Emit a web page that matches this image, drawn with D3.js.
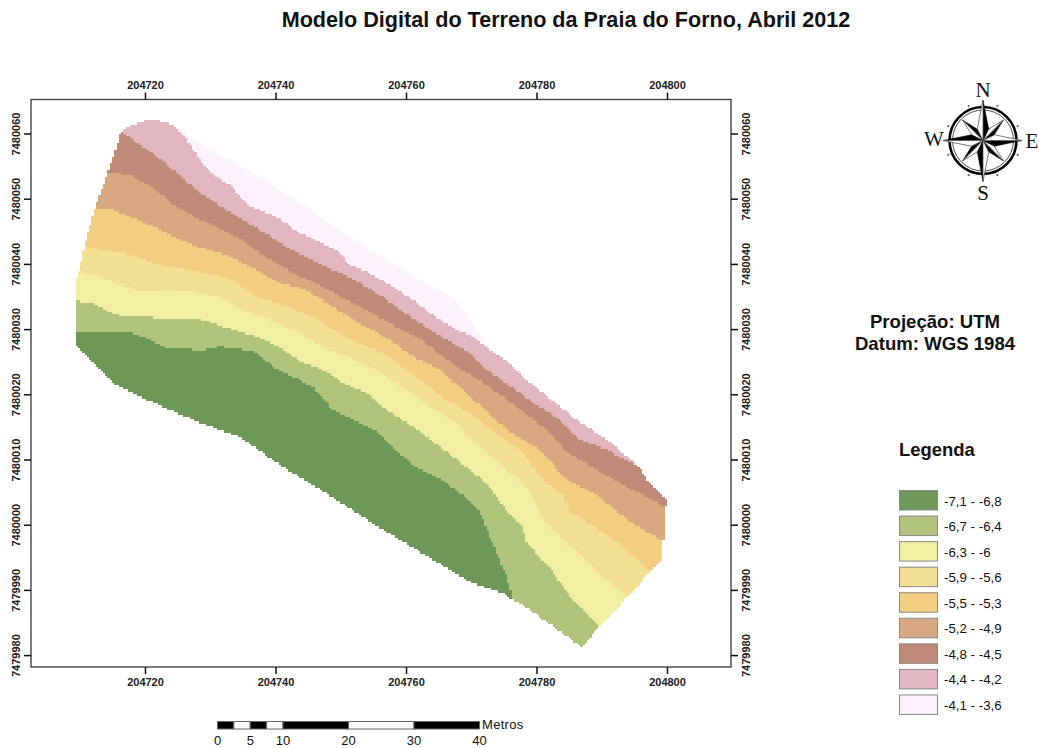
<!DOCTYPE html>
<html>
<head>
<meta charset="utf-8">
<script src="https://cdn.jsdelivr.net/npm/d3@7"></script>
<style>
  html, body { margin: 0; padding: 0; background: #fff; }
  svg { display: block; }
  text { font-family: "Liberation Sans", Arial, sans-serif; fill: #111; }
</style>
</head>
<body>
<svg id="chart" width="1039" height="748"></svg>
<script>
// map positions are metres from this UTM origin
const eastOrigin = 204700;
const northOrigin = 7480000;

const eastTicks = [204720, 204740, 204760, 204780, 204800];
const northTicks = [7479980, 7479990, 7480000, 7480010, 7480020, 7480030, 7480040, 7480050, 7480060];

const classLabels = ["-7,1 - -6,8", "-6,7 - -6,4", "-6,3 - -6", "-5,9 - -5,6", "-5,5 - -5,3", "-5,2 - -4,9", "-4,8 - -4,5", "-4,4 - -4,2", "-4,1 - -3,6"];
const classColors = ["#6e9857", "#b0c47c", "#f2eea2", "#f3e094", "#f3cd80", "#d8a980", "#c08a79", "#e2b6bf", "#fdf1fe"];

const surveyOutline = [[9.27,27.82],[9.27,34.46],[9.53,38.04],[10.04,39.37],[10.8,43.2],[12.49,49.03],[14.64,54.86],[16.32,60.28],[17.39,61.04],[20.77,62.22],[21.79,62.07],[23.83,61.46],[24.86,60.8],[28.43,58.54],[32.52,56.24],[37.62,53.37],[43.75,49.34],[54.48,42.13],[62.61,37.27],[67.77,34.46],[69.81,31.4],[72.87,26.79],[75.94,24.8],[77.47,23.27],[78.5,22.19],[86.16,16.06],[91.26,12.73],[95.56,9],[97.39,6.4],[100.15,3.79],[99.8,2.76],[99.8,-1.27],[99.39,-2.61],[99.39,-5.41],[97.39,-7.21],[96.12,-8.74],[93.82,-11.04],[92.29,-13.08],[89.73,-15.64],[86.93,-18.71],[82.57,-15.64],[77.98,-12.32],[76.4,-11.55],[74.91,-10.48],[69.81,-8.74],[56.48,-0.81],[49.38,3.79],[45.75,6.09],[40.69,9.16],[34.56,13.45],[28.43,15.6],[17.7,20.35],[15.1,21.73],[11.57,25.26]];

// upper limit of each class, west to east (class 0 is the lowest)
const limit0 = [[8,29.6],[13.1,29.4],[17.2,29.6],[19.69,28.83],[23.33,27.1],[28.89,26.79],[31.49,27.3],[36.55,26.69],[39.62,24.23],[43.75,22.19],[45.75,21.17],[48.81,17.59],[55.51,14.26],[58.01,11.76],[61.07,9.16],[66.24,6.4],[69.81,3.64],[71.34,1.79],[75.43,-7.98],[76.4,-11.55],[76.55,-12.01]];
const limit1 = [[8,34.46],[12.03,34],[15.4,32.16],[19.23,31.86],[23.33,31.7],[28.89,31.4],[32.52,30.17],[37.12,28.83],[40.69,27.1],[44.21,24.8],[47.28,23.73],[50.91,21.43],[53.98,20.2],[57.04,17.59],[61.07,15.03],[65.21,11.96],[69.81,8.39],[72.87,5.83],[75.63,1.79],[77.93,-0.31],[78.5,-2.81],[82.07,-6.64],[85.13,-11.04],[89.58,-15.64],[90.34,-16.46]];
const limit2 = [[8,39.37],[12.03,38.3],[15.1,37.27],[19.23,35.74],[23.33,36],[28.43,35.54],[31.49,34.97],[35.02,32.93],[38.65,31.7],[43.75,29.4],[47.28,27.3],[50.91,25.77],[55.51,23.73],[60.11,20.66],[63.68,18.1],[67.77,15.6],[69.81,13.3],[72.87,10.69],[76.4,7.62],[78.5,5.83],[81.3,0.26],[86.16,-4.14],[90.19,-7.98],[93.82,-11.04],[94.63,-11.7]];
const limit3 = [[8,43.2],[13.56,42.13],[16.63,41.67],[21.23,40.14],[24.86,39.37],[29.46,38.6],[33.49,37.53],[37.12,34.97],[40.69,33.85],[45.75,31.9],[50.91,28.63],[57.04,26.03],[61.07,22.96],[66.24,19.13],[69.81,17.13],[73.33,14.26],[77.93,11.2],[80.54,7.36],[84.06,4.56],[85.13,1.99],[91.26,-1.84],[97.39,-7.06],[98.16,-7.71]];
const limit4 = [[8,49.03],[15.1,48.27],[17.7,47.24],[21.23,45.71],[24.86,43.97],[27.92,42.64],[32.52,41.36],[36.09,39.57],[40.69,37.07],[44.78,36],[48.35,33.7],[52.44,31.13],[57.04,28.63],[61.07,25.77],[65.21,23.73],[69.81,19.74],[72.87,16.83],[76.4,13.91],[80.54,11.46],[84.63,6.86],[89.23,4.56],[94.33,0.46],[99.43,-2.61],[100.46,-3.11]];
const limit5 = [[8,55.02],[17.7,53.64],[21.23,51.64],[24.86,48.77],[27.92,47.04],[30.99,45.71],[34.05,44.17],[37.62,41.67],[40.69,39.75],[43.25,38.3],[46.82,36.76],[50.34,34.77],[53.98,32.93],[58.01,30.63],[62.15,28.48],[65.67,25.77],[69.3,23.27],[71.34,22.19],[74.87,19.63],[79,16.56],[82.07,14.06],[84.63,11.2],[89.23,8.39],[93.82,5.83],[99.8,2.71],[100.46,2.41]];
const limit6 = [[8,60.54],[16.02,60.54],[19.23,58.24],[21.23,57.01],[25.82,53.17],[28.43,50.87],[32.52,48.27],[37.62,45.2],[42.48,42.13],[45.75,40.6],[49.38,38.8],[52.95,37.07],[56.02,35.23],[59.54,32.67],[62.61,30.63],[66.24,28.33],[69.81,26.33],[72.37,23.73],[74.87,22.04],[77.47,20.2],[80.03,18.36],[83.6,16.06],[85.13,14.52],[86.67,12.99],[90.19,11.76],[95.56,9],[100.46,5.32]];
const limit7 = [[6.97,65.1],[24.86,62.07],[24.87,60.85],[26.39,59],[28.43,55.94],[30.42,53.64],[33.03,52.1],[36.09,48.77],[40.18,47.24],[43.75,44.74],[49.38,42.13],[51.42,39.83],[53.98,38.8],[58.01,36.5],[61.07,34.46],[63.68,32.47],[67.77,29.86],[70.27,28.83],[72.87,26.79],[75.94,24.8],[77.47,23.6],[86.16,16.83],[91.26,13.6],[95.56,9.77],[100.46,5.32]];
const classLimits = [limit0, limit1, limit2, limit3, limit4, limit5, limit6, limit7];

const barBreaks = [0, 2.5, 5, 7.5, 10, 20, 30, 40];
const barLabels = [0, 5, 10, 20, 30, 40];

const svg = d3.select("#chart");
const frame = { left: 31, top: 99.5, right: 731, bottom: 667 };

const x = d3.scaleLinear().domain([204720, 204800]).range([145, 667]);
const y = d3.scaleLinear().domain([7480000, 7480060]).range([524.7, 133.5]);
const px = e => x(eastOrigin + e);
const py = n => y(northOrigin + n);

svg.append("text").attr("x", 566).attr("y", 27).attr("text-anchor", "middle")
  .style("font-size", "21.6px").style("font-weight", "bold").text("Modelo Digital do Terreno da Praia do Forno, Abril 2012");

// the terrain is a raster: sample the class polygons on a regular cell grid
const cellSize = 0.35;
const classAreas = classLimits.map(l => l.concat([[l[l.length - 1][0], -30], [l[0][0], -30]]));
const classPaths = classColors.map(() => d3.path());

d3.range(-19.5, 63, cellSize).forEach(n => {
  const y0 = Math.round(py(n + cellSize));
  const y1 = Math.round(py(n));
  d3.range(9, 101, cellSize).forEach(e => {
    const centre = [e + cellSize / 2, n + cellSize / 2];
    if (!d3.polygonContains(surveyOutline, centre)) return;
    let k = classAreas.findIndex(a => d3.polygonContains(a, centre));
    if (k < 0) k = 8;
    const x0 = Math.round(px(e));
    classPaths[k].rect(x0, y0, Math.round(px(e + cellSize)) - x0, y1 - y0);
  });
});

svg.append("g").attr("shape-rendering", "crispEdges")
  .selectAll("path")
  .data(classPaths)
  .enter()
  .append("path")
  .attr("d", d => d.toString())
  .attr("fill", (d, i) => classColors[i]);

// frame and the four coordinate axes
svg.append("rect").attr("x", frame.left).attr("y", frame.top)
  .attr("width", frame.right - frame.left).attr("height", frame.bottom - frame.top)
  .attr("fill", "none").attr("stroke", "#444").attr("stroke-width", 1.4);

function styleAxis(g) {
  g.select(".domain").remove();
  g.selectAll("line").attr("stroke", "#111").attr("stroke-width", 1.5);
  g.selectAll("text").style("font-size", "11px").style("font-weight", "bold").style("fill", "#222");
}

svg.append("g").attr("transform", `translate(0,${frame.top})`)
  .call(d3.axisTop(x).tickValues(eastTicks).tickSize(7).tickPadding(4).tickFormat(d3.format("d")))
  .call(styleAxis);
svg.append("g").attr("transform", `translate(0,${frame.bottom})`)
  .call(d3.axisBottom(x).tickValues(eastTicks).tickSize(7).tickPadding(4).tickFormat(d3.format("d")))
  .call(styleAxis);

const leftAxis = svg.append("g").attr("transform", `translate(${frame.left},0)`)
  .call(d3.axisLeft(y).tickValues(northTicks).tickSize(7).tickFormat(d3.format("d")))
  .call(styleAxis);
leftAxis.selectAll("text").attr("x", 0).attr("dy", 0).attr("y", 0).attr("text-anchor", "middle")
  .attr("dominant-baseline", "central").attr("transform", "translate(-15,0) rotate(-90)");

const rightAxis = svg.append("g").attr("transform", `translate(${frame.right},0)`)
  .call(d3.axisRight(y).tickValues(northTicks).tickSize(7).tickFormat(d3.format("d")))
  .call(styleAxis);
rightAxis.selectAll("text").attr("x", 0).attr("dy", 0).attr("y", 0).attr("text-anchor", "middle")
  .attr("dominant-baseline", "central").attr("transform", "translate(15,0) rotate(-90)");

// north arrow
const rose = svg.append("g").attr("transform", "translate(983,140.5)");
const polar = d3.lineRadial().angle(d => d[0]).radius(d => d[1]);
const deg = Math.PI / 180;

rose.append("circle").attr("r", 33.5).attr("fill", "none").attr("stroke", "#000").attr("stroke-width", 2.6);
rose.append("circle").attr("r", 30.5).attr("fill", "none").attr("stroke", "#222").attr("stroke-width", 0.8);

rose.selectAll("circle.stud")
  .data(d3.range(22.5, 360, 45))
  .enter()
  .append("circle")
  .attr("class", "stud")
  .attr("cx", a => 37.5 * Math.sin(a * deg))
  .attr("cy", a => -37.5 * Math.cos(a * deg))
  .attr("r", 1.1)
  .attr("fill", "#666");

function drawPoint(angle, length, spread, shoulder) {
  const a = angle * deg;
  const s = spread * deg;
  rose.append("path").attr("d", polar([[a, length], [a + s, shoulder], [0, 0]]) + "Z")
    .attr("fill", "#000").attr("stroke", "#000").attr("stroke-width", 0.5);
  rose.append("path").attr("d", polar([[a, length], [a - s, shoulder], [0, 0]]) + "Z")
    .attr("fill", "#fff").attr("stroke", "#555").attr("stroke-width", 0.8);
}
[45, 135, 225, 315].forEach(a => drawPoint(a, 29, 20, 12));
drawPoint(0, 40.5, 26, 13);
drawPoint(90, 39, 26, 13);
drawPoint(180, 41, 26, 13);
drawPoint(270, 40, 26, 13);

const roseLetters = [["N", 983, 90], ["S", 983, 193], ["W", 934, 139], ["E", 1032, 141]];
svg.selectAll("text.rose")
  .data(roseLetters)
  .enter()
  .append("text")
  .attr("class", "rose")
  .attr("x", d => d[1])
  .attr("y", d => d[2])
  .attr("text-anchor", "middle")
  .attr("dominant-baseline", "central")
  .style("font-family", "'Liberation Serif', serif")
  .style("font-size", "21px")
  .text(d => d[0]);

// projection note
svg.append("text").attr("x", 935).attr("y", 328).attr("text-anchor", "middle")
  .style("font-size", "18.6px").style("font-weight", "bold").text("Projeção: UTM");
svg.append("text").attr("x", 935).attr("y", 350).attr("text-anchor", "middle")
  .style("font-size", "18.6px").style("font-weight", "bold").text("Datum: WGS 1984");

// legend
svg.append("text").attr("x", 899).attr("y", 456)
  .style("font-size", "18.4px").style("font-weight", "bold").text("Legenda");

const legendY = d3.scaleBand().domain(d3.range(classLabels.length)).range([490.5, 720.5]).paddingInner(0);
const legend = svg.selectAll("g.legend")
  .data(classLabels)
  .enter()
  .append("g")
  .attr("class", "legend")
  .attr("transform", (d, i) => `translate(0,${legendY(i)})`);

legend.append("rect").attr("x", 899.5).attr("y", 0).attr("width", 38).attr("height", 19.5)
  .attr("fill", (d, i) => classColors[i]).attr("stroke", "#8a8a8a").attr("stroke-width", 1);
legend.append("text").attr("x", 944).attr("y", 10.5).attr("dominant-baseline", "central")
  .style("font-size", "13.3px").text(d => d);

// scale bar
const bar = d3.scaleLinear().domain([0, 40]).range([217.5, 479.5]);
svg.selectAll("rect.bar")
  .data(d3.pairs(barBreaks))
  .enter()
  .append("rect")
  .attr("class", "bar")
  .attr("x", d => bar(d[0]))
  .attr("y", 721.5)
  .attr("width", d => bar(d[1]) - bar(d[0]))
  .attr("height", 7.5)
  .attr("fill", (d, i) => i % 2 ? "#fff" : "#000")
  .attr("stroke", "#666")
  .attr("stroke-width", 1);

svg.selectAll("text.barlabel")
  .data(barLabels)
  .enter()
  .append("text")
  .attr("class", "barlabel")
  .attr("x", d => bar(d))
  .attr("y", 745)
  .attr("text-anchor", "middle")
  .style("font-size", "13px")
  .text(d => d);
svg.append("text").attr("x", 482).attr("y", 728.5).style("font-size", "13px").style("letter-spacing", "0.3px").text("Metros");
</script>
</body>
</html>
